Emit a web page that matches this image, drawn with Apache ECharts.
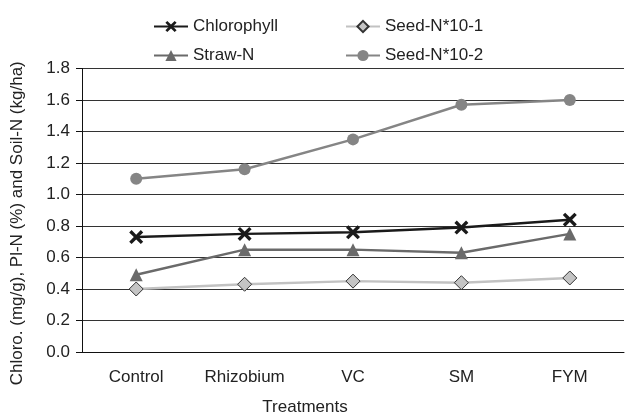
<!DOCTYPE html>
<html>
<head>
<meta charset="utf-8">
<script src="https://cdn.jsdelivr.net/npm/echarts@6/dist/echarts.min.js"></script>
<style>
  html, body { margin: 0; padding: 0; background: #fff; }
  #chart { width: 627px; height: 418px; }
</style>
</head>
<body>
<div id="chart"></div>
<script>
const treatments = ['Control', 'Rhizobium', 'VC', 'SM', 'FYM']
const chlorophyll = [0.73, 0.75, 0.76, 0.79, 0.84]
const strawN = [0.49, 0.65, 0.65, 0.63, 0.75]
const seedN1 = [0.40, 0.43, 0.45, 0.44, 0.47]
const seedN2 = [1.10, 1.16, 1.35, 1.57, 1.60]

const font = '"Liberation Sans", Arial, sans-serif'
const ink = '#222'
const crossSymbol = 'path://M0,1.7 L1.7,0 L5,3.3 L8.3,0 L10,1.7 L6.7,5 L10,8.3 L8.3,10 L5,6.7 L1.7,10 L0,8.3 L3.3,5 Z'

const chart = echarts.init(document.getElementById('chart'))
chart.setOption({
  animation: false,
  backgroundColor: '#fff',
  textStyle: { fontFamily: font, color: ink },
  grid: { left: 82, right: 3, top: 68.5, bottom: 66, containLabel: false, outerBoundsMode: 'none' },
  legend: [
    {
      data: ['Chlorophyll', 'Straw-N'],
      orient: 'vertical', left: 148, top: 13,
      itemWidth: 34, itemHeight: 14, itemGap: 12,
      textStyle: { fontFamily: font, fontSize: 17, color: ink },
    },
    {
      data: ['Seed-N*10-1', 'Seed-N*10-2'],
      orient: 'vertical', left: 340, top: 13,
      itemWidth: 34, itemHeight: 14, itemGap: 12,
      textStyle: { fontFamily: font, fontSize: 17, color: ink },
    },
  ],
  xAxis: {
    type: 'category',
    data: treatments,
    boundaryGap: true,
    name: 'Treatments',
    nameLocation: 'middle',
    nameGap: 47,
    nameTextStyle: { fontFamily: font, fontSize: 17, color: ink, padding: [0, 96, 0, 0] },
    axisLine: { lineStyle: { color: '#111', width: 1 } },
    axisTick: { show: false },
    axisLabel: { fontFamily: font, fontSize: 17, color: ink, margin: 17, interval: 0 },
  },
  yAxis: {
    type: 'value',
    min: 0, max: 1.8, interval: 0.2,
    name: 'Chloro. (mg/g), Pl-N (%) and Soil-N (kg/ha)',
    nameLocation: 'middle',
    nameGap: 56,
    nameTextStyle: { fontFamily: font, fontSize: 17, color: ink, padding: [0, 26, 0, 0] },
    axisLine: { show: true, lineStyle: { color: '#111', width: 1 } },
    axisTick: { show: true, length: 6, lineStyle: { color: '#111' } },
    axisLabel: { fontFamily: font, fontSize: 17, color: ink, margin: 12, formatter: (v) => v.toFixed(1) },
    splitLine: { lineStyle: { color: '#333', width: 1 } },
  },
  series: [
    {
      name: 'Chlorophyll', type: 'line', data: chlorophyll,
      symbol: crossSymbol, symbolSize: 14,
      lineStyle: { color: '#1a1a1a', width: 2.5 },
      itemStyle: { color: '#1a1a1a' },
    },
    {
      name: 'Straw-N', type: 'line', data: strawN,
      symbol: 'triangle', symbolSize: 13,
      lineStyle: { color: '#6a6a6a', width: 2.5 },
      itemStyle: { color: '#6a6a6a' },
    },
    {
      name: 'Seed-N*10-1', type: 'line', data: seedN1,
      symbol: 'diamond', symbolSize: 14,
      lineStyle: { color: '#c2c2c2', width: 2.5 },
      itemStyle: { color: '#c4c4c4', borderColor: '#333', borderWidth: 1 },
    },
    {
      name: 'Seed-N*10-2', type: 'line', data: seedN2,
      symbol: 'circle', symbolSize: 12,
      lineStyle: { color: '#858585', width: 2.5 },
      itemStyle: { color: '#858585' },
    },
  ],
})
</script>
</body>
</html>
